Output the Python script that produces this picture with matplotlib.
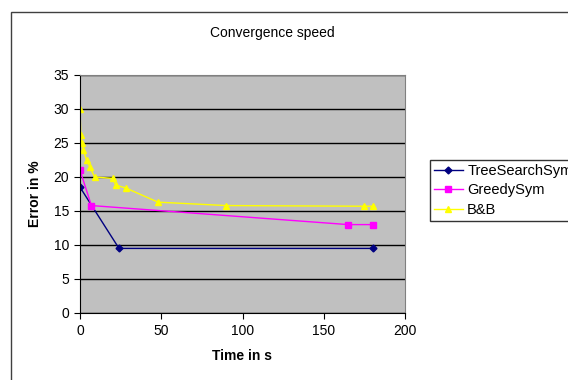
import matplotlib.pyplot as plt
from matplotlib.patches import Rectangle

plt.rcParams['font.family'] = ['Liberation Sans', 'DejaVu Sans']

# data
tree_x = [0, 24, 180]
tree_y = [18.5, 9.5, 9.5]
greedy_x = [0, 7, 165, 180]
greedy_y = [21.0, 15.8, 13.0, 13.0]
bb_x = [0, 0.5, 1, 2, 4, 6, 9, 20, 22, 28, 48, 90, 175, 180]
bb_y = [30.0, 26.2, 25.0, 24.0, 22.5, 21.5, 20.0, 19.8, 18.8, 18.4, 16.3, 15.8, 15.7, 15.7]
x_ticks = [0, 50, 100, 150, 200]
y_ticks = [0, 5, 10, 15, 20, 25, 30, 35]

fig = plt.figure(figsize=(5.68, 3.8), dpi=100)
fig.patches.append(Rectangle((11 / 568, -0.05), 1.0, 0.968 + 0.05, transform=fig.transFigure,
                             fill=False, edgecolor='#404040', linewidth=1.0))
ax = fig.add_axes([80 / 568, 1 - 313 / 380, 325 / 568, 238 / 380])
ax.set_facecolor('#C0C0C0')

ax.plot(tree_x, tree_y, color='#000080', marker='D', markersize=3.5, linewidth=1, label='TreeSearchSym')
ax.plot(greedy_x, greedy_y, color='#FF00FF', marker='s', markersize=4, linewidth=1, label='GreedySym')
ax.plot(bb_x, bb_y, color='#FFFF00', marker='^', markersize=5, linewidth=1, label='B&B')

ax.set_xlim(0, 200)
ax.set_ylim(0, 35)
ax.set_xticks(x_ticks)
ax.set_yticks(y_ticks)
ax.tick_params(labelsize=10, direction='out', length=4, colors='black', pad=4)
ax.grid(axis='y', color='black', linewidth=1)
ax.set_axisbelow(True)
for s in ['top', 'right']:
    ax.spines[s].set_color('#808080')
for s in ['left', 'bottom']:
    ax.spines[s].set_color('black')

fig.text(272 / 568, 1 - 33 / 380, 'Convergence speed', fontsize=10, ha='center', va='center')
ax.set_xlabel('Time in s', fontsize=10, fontweight='bold', labelpad=8)
ax.set_ylabel('Error in %', fontsize=10, fontweight='bold', labelpad=8)

leg = fig.legend(loc='upper left', bbox_to_anchor=(430 / 568, 1 - 160 / 380), fontsize=10.5,
                 frameon=True, fancybox=False, edgecolor='black', borderpad=0.25,
                 handlelength=2, handletextpad=0.3, labelspacing=0.4, borderaxespad=0)
leg.get_frame().set_linewidth(1)

fig.savefig('out.png', dpi=100)
